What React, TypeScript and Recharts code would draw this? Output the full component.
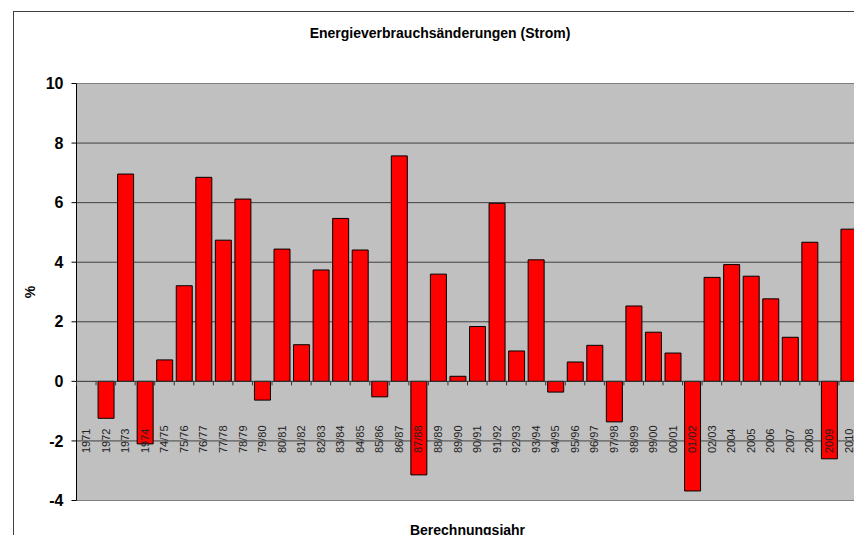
import React from 'react';
import { BarChart, Bar, XAxis, YAxis, CartesianGrid, ReferenceLine } from 'recharts';

const categories = [
  '1971', '1972', '1973', '1974', '74/75', '75/76', '76/77', '77/78', '78/79', '79/80',
  '80/81', '81/82', '82/83', '83/84', '84/85', '85/86', '86/87', '87/88', '88/89', '89/90',
  '90/91', '91/92', '92/93', '93/94', '94/95', '95/96', '96/97', '97/98', '98/99', '99/00',
  '00/01', '01/02', '02/03', '2004', '2005', '2006', '2007', '2008', '2009', '2010',
];

const changes: (number | null)[] = [
  null, -1.24, 6.96, -2.1, 0.72, 3.21, 6.85, 4.74, 6.12, -0.63,
  4.44, 1.23, 3.74, 5.47, 4.41, -0.52, 7.57, -3.14, 3.6, 0.17,
  1.84, 5.98, 1.02, 4.08, -0.36, 0.65, 1.21, -1.36, 2.53, 1.65,
  0.95, -3.68, 3.49, 3.92, 3.53, 2.77, 1.48, 4.67, -2.6, 5.11,
];

const yTicks = [-4, -2, 0, 2, 4, 6, 8, 10];
const gridValues = [-2, 2, 4, 6, 8];

const title = 'Energieverbrauchsänderungen (Strom)';
const xTitle = 'Berechnungsjahr';
const yTitle = '%';

const data = categories.map((c, i) => ({ name: c, value: changes[i] }));

const FONT = '"Liberation Sans", Arial, sans-serif';
const CW = 900;
const CH = 600;
const PLOT_LEFT = 76.5;
const PLOT_TOP = 83.5;
const PLOT_BOTTOM = 500.5;
const PLOT_RIGHT = 858.5;
const X_AXIS_H = 30;
const Y_MIN = -4;
const Y_MAX = 10;
const BAND = (PLOT_RIGHT - PLOT_LEFT) / categories.length;
const Y_ZERO = PLOT_TOP + ((Y_MAX - 0) / (Y_MAX - Y_MIN)) * (PLOT_BOTTOM - PLOT_TOP);

const CategoryTick = (props: any) => {
  const { x, y, payload } = props;
  const left = x - BAND / 2;
  return (
    <g>
      <line x1={left} x2={left} y1={Y_ZERO} y2={Y_ZERO + 4} stroke="#333" strokeWidth={1} />
      <g transform={`translate(${x},${y - 47.5}) rotate(-90)`}>
        <text x={0} y={0} dy="0.35em" textAnchor="start" fontSize={11} fontFamily={FONT} fill="#222">
          {payload.value}
        </text>
      </g>
    </g>
  );
};

export default function App() {
  return (
    <div style={{ position: 'fixed', left: 0, top: 0, width: 854, height: 535, overflow: 'hidden', background: '#fff' }}>
      <div style={{ position: 'absolute', left: 13, top: 11, width: 900, height: 600, border: '1px solid #404040', boxSizing: 'border-box' }} />
      <div style={{ position: 'absolute', left: 240, width: 400, top: 25, textAlign: 'center', fontFamily: FONT, fontWeight: 'bold', fontSize: 14, lineHeight: '17px', color: '#000' }}>
        {title}
      </div>
      <div style={{ position: 'absolute', left: 0, top: 0 }}>
        <BarChart
          width={CW}
          height={CH}
          data={data}
          margin={{ top: PLOT_TOP, left: 0, right: CW - PLOT_RIGHT, bottom: CH - PLOT_BOTTOM - X_AXIS_H }}
        >
          <CartesianGrid vertical={false} horizontalValues={gridValues} stroke="#404040" fill="#C0C0C0" />
          <Bar dataKey="value" fill="#FF0000" stroke="#000" strokeWidth={1} barSize={16} isAnimationActive={false} />
          <ReferenceLine y={Y_MAX} stroke="#808080" />
          <ReferenceLine y={Y_MIN} stroke="#808080" />
          <ReferenceLine y={0} stroke="#333" />
          <XAxis
            dataKey="name"
            height={X_AXIS_H}
            axisLine={false}
            tickLine={false}
            tickSize={0}
            tickMargin={0}
            interval={0}
            tick={<CategoryTick />}
          />
          <YAxis
            width={PLOT_LEFT}
            domain={[Y_MIN, Y_MAX]}
            ticks={yTicks}
            interval={0}
            axisLine={{ stroke: '#000' }}
            tickLine={{ stroke: '#000' }}
            tickSize={5}
            tickMargin={8}
            tick={{ fontSize: 16, fontWeight: 'bold', fill: '#000', fontFamily: FONT }}
          />
        </BarChart>
      </div>
      <div style={{ position: 'absolute', left: 30, top: 292, transform: 'translate(-50%, -50%) rotate(-90deg)', fontFamily: FONT, fontWeight: 'bold', fontSize: 14, color: '#000' }}>
        {yTitle}
      </div>
      <div style={{ position: 'absolute', left: PLOT_LEFT, width: PLOT_RIGHT - PLOT_LEFT, top: 522, textAlign: 'center', fontFamily: FONT, fontWeight: 'bold', fontSize: 14, lineHeight: '17px', color: '#000' }}>
        {xTitle}
      </div>
    </div>
  );
}
